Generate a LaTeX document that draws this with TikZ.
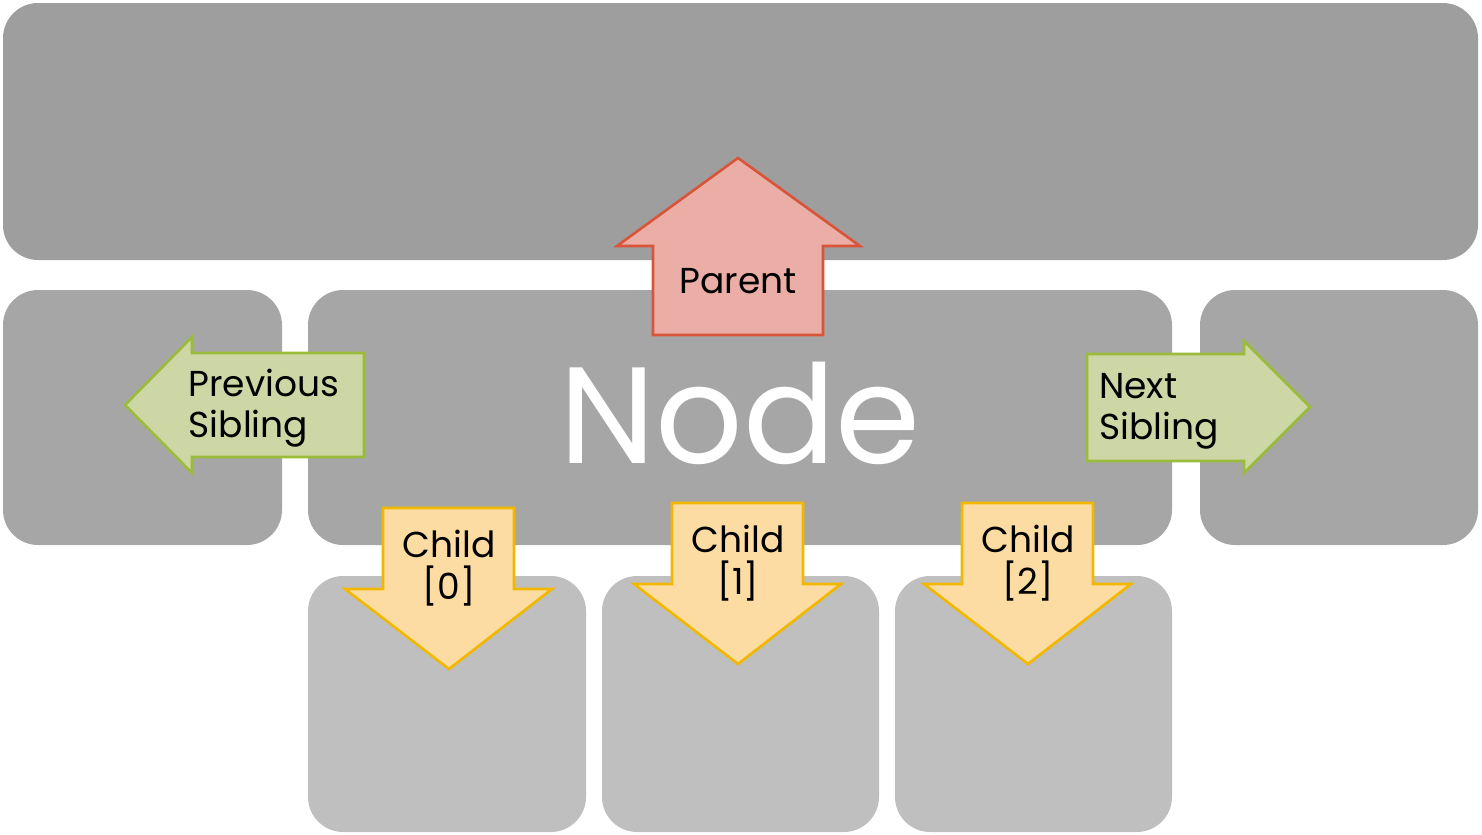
\documentclass[tikz,border=0pt]{standalone}
\usepackage{fontspec}
\setmainfont{Poppins}
\usetikzlibrary{positioning}
\definecolor{topgray}{RGB}{158,158,158}
\definecolor{midgray}{RGB}{166,166,166}
\definecolor{lowgray}{RGB}{191,191,191}
\definecolor{parentfill}{RGB}{235,174,166}
\definecolor{parentline}{RGB}{217,85,58}
\definecolor{sibfill}{RGB}{205,214,165}
\definecolor{sibline}{RGB}{155,187,59}
\definecolor{childfill}{RGB}{252,220,162}
\definecolor{childline}{RGB}{242,184,0}
\tikzset{
  box/.style={rounded corners=20},
  arrowshape/.style={line width=1.5pt, line join=miter},
  lbl/.style={font=\fontsize{20.5}{23.5}\selectfont, align=left, inner sep=0pt},
}
\begin{document}
\begin{tikzpicture}[x=0.02cm, y=-0.02cm]
        \useasboundingbox (0,0) rectangle (1482,835);
        % Boxes
        \fill[box, topgray] (3,3) rectangle (1478,260);
        \fill[box, midgray] (3,290) rectangle (282,545);
        \fill[box, midgray] (308,290) rectangle (1172,545);
        \fill[box, midgray] (1200,290) rectangle (1478,545);
        \fill[box, lowgray] (308,576) rectangle (586,832);
        \fill[box, lowgray] (602,576) rectangle (879,832);
        \fill[box, lowgray] (895,576) rectangle (1172,832);
        \node (node) at (740,413) [text=white, font=\fontsize{78}{80}\selectfont, inner sep=0pt] {Node};
        % Parent arrow
        \draw[arrowshape, fill=parentfill, draw=parentline] (653,335) -- (653,246) -- (617,246) -- (738,158) -- (860,246) -- (823,246) -- (823,335) -- cycle;
        \node (parent) at (738,281) [lbl] {Parent};
        % Sibling arrows
        \draw[arrowshape, fill=sibfill, draw=sibline] (364,353) -- (192,353) -- (192,337) -- (125,405) -- (192,473) -- (192,457) -- (364,457) -- cycle;
        \node (prev) at (264,408) [lbl] {Previous\\Sibling};
        \draw[arrowshape, fill=sibfill, draw=sibline] (1087,354) -- (1244,354) -- (1244,341) -- (1310,407) -- (1244,473) -- (1244,461) -- (1087,461) -- cycle;
        \node (next) at (1159,411) [lbl] {Next\\Sibling};
        % Child arrows
        \foreach \cx/\top/\idx in {449/508/0, 738/503/1, 1028/503/2} {
          \draw[arrowshape, fill=childfill, draw=childline] (\cx-66,\top) -- (\cx+65,\top) -- (\cx+65,\top+81) -- (\cx+103,\top+81) -- (\cx,\top+161) -- (\cx-104,\top+81) -- (\cx-66,\top+81) -- cycle;
          \node (child\idx) at (\cx,\top+60) [lbl, align=center] {Child\\{[}\idx{]}};
        }
    \end{tikzpicture}
\end{document}
